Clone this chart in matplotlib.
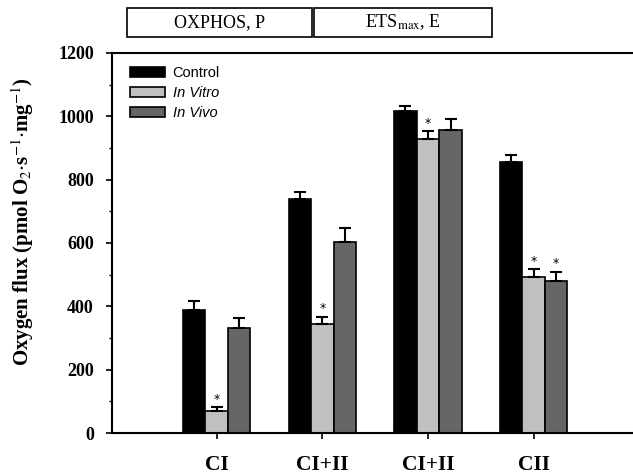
import numpy as np
import matplotlib.pyplot as plt
from matplotlib.patches import Rectangle

plt.rcParams['font.family'] = 'Liberation Serif'
plt.rcParams['mathtext.fontset'] = 'stix'

# Data
categories = ['CI', 'CI+II', 'CI+II', 'CII']
groups = ['Control', 'In Vitro', 'In Vivo']
control = [388, 738, 1015, 855]
control_err = [28, 22, 18, 23]
in_vitro = [70, 344, 927, 494]
in_vitro_err = [11, 23, 25, 24]
in_vivo = [331, 604, 956, 480]
in_vivo_err = [31, 43, 34, 29]
# significance markers (vs control)
vitro_sig = [True, True, True, True]
vivo_sig = [False, False, False, True]

colors = ['#000000', '#c0c0c0', '#666666']

fig = plt.figure(figsize=(6.33, 4.76), dpi=100)
ax = fig.add_axes([0.177, 0.090, 0.823, 0.799])

x = np.arange(len(categories))
w = 0.213
series = [(control, control_err), (in_vitro, in_vitro_err), (in_vivo, in_vivo_err)]
for i, (vals, errs) in enumerate(series):
    pos = x + (i - 1) * w
    ax.bar(pos, vals, width=w, color=colors[i], edgecolor='black', linewidth=1.2,
           label=groups[i], zorder=2)
    ax.errorbar(pos, vals, yerr=[np.zeros(len(errs)), errs], fmt='none',
                ecolor='black', elinewidth=1.5, capsize=4.5, capthick=1.5, zorder=3)

for j in range(len(categories)):
    if vitro_sig[j]:
        ax.text(x[j], in_vitro[j] + in_vitro_err[j] + 25, '*', ha='center',
                va='center', fontsize=9, family='DejaVu Sans')
    if vivo_sig[j]:
        ax.text(x[j] + w, in_vivo[j] + in_vivo_err[j] + 25, '*', ha='center',
                va='center', fontsize=9, family='DejaVu Sans')

ax.set_xlim(-0.99, 3.94)
ax.set_ylim(0, 1200)
ax.set_yticks(np.arange(0, 1201, 200))
ax.set_yticks(np.arange(100, 1200, 200), minor=True)
ax.set_xticks(x)
ax.set_xticklabels(categories, fontsize=15.5, fontweight='bold')
ax.tick_params(axis='x', length=4, width=1.2, pad=12)
ax.tick_params(axis='y', which='major', length=4, width=1.2, labelsize=13, pad=9)
ax.tick_params(axis='y', which='minor', length=2.5, width=1.0)
for lab in ax.get_yticklabels():
    lab.set_fontweight('bold')
ax.spines['right'].set_visible(False)
for s in ['left', 'bottom', 'top']:
    ax.spines[s].set_linewidth(1.5)

ax.set_ylabel(r'Oxygen flux (pmol O$_2$$\cdot$s$^{-1}$$\cdot$mg$^{-1}$)',
              fontsize=15, fontweight='bold')
ax.yaxis.set_label_coords(-0.146, 0.555)

leg = ax.legend(loc='upper left', bbox_to_anchor=(0.01, 0.999), frameon=False,
                handlelength=2.4, handleheight=0.7, labelspacing=0.4,
                handletextpad=0.5, prop={'family': 'Liberation Sans', 'size': 10.5})
for t in leg.get_texts()[1:]:
    t.set_style('italic')

# header boxes above the plot
W, H = 633.0, 476.0
boxes = [(127, 312, 'OXPHOS, P'), (314, 492, r'ETS$_{\mathrm{max}}$, E')]
for x0, x1, label in boxes:
    fig.add_artist(Rectangle((x0 / W, 1 - 37 / H), (x1 - x0) / W, 29 / H,
                             transform=fig.transFigure, fill=False,
                             edgecolor='black', linewidth=1.2))
    fig.text((x0 + x1) / 2 / W, 1 - 22.5 / H, label, ha='center', va='center',
             fontsize=13)

plt.savefig('out.png', dpi=100)
